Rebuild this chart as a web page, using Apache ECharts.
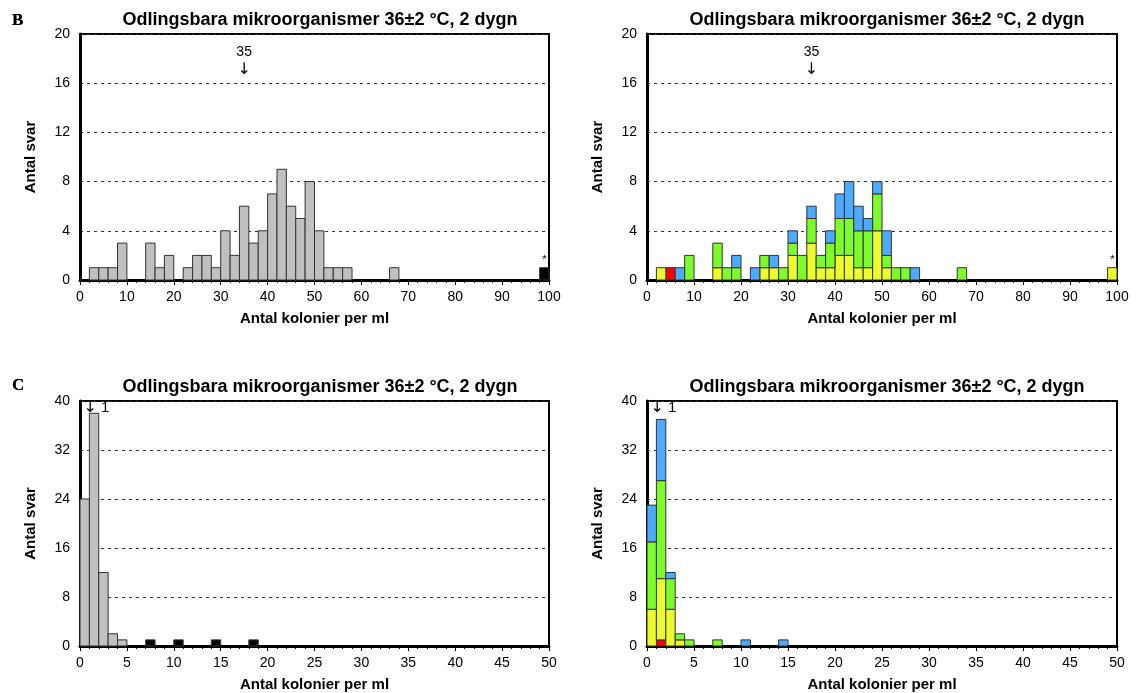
<!DOCTYPE html>
<html>
<head>
<meta charset="utf-8">
<script src="https://cdn.jsdelivr.net/npm/echarts@6/dist/echarts.min.js"></script>
<style>
  html, body { margin: 0; padding: 0; background: #fff; }
  #main { width: 1136px; height: 693px; }
</style>
</head>
<body>
<div id="main"></div>
<script>
// upper pair: bins of 2 colonies per ml, 0..100
var topGrey   = [0,1,1,1,3,0,0,3,1,2, 0,1,2,2,1,4,2,6,3,4, 7,9,6,5,8,4,1,1,1,0, 0,0,0,1,0,0,0,0,0,0, 0,0,0,0,0,0,0,0,0,0]
var topBlack  = [0,0,0,0,0,0,0,0,0,0, 0,0,0,0,0,0,0,0,0,0, 0,0,0,0,0,0,0,0,0,0, 0,0,0,0,0,0,0,0,0,0, 0,0,0,0,0,0,0,0,0,1]
var topRed    = [0,0,1,0,0,0,0,0,0,0, 0,0,0,0,0,0,0,0,0,0, 0,0,0,0,0,0,0,0,0,0, 0,0,0,0,0,0,0,0,0,0, 0,0,0,0,0,0,0,0,0,0]
var topYellow = [0,1,0,0,0,0,0,1,0,0, 0,0,1,1,0,2,0,3,1,1, 2,2,1,1,4,1,0,0,0,0, 0,0,0,0,0,0,0,0,0,0, 0,0,0,0,0,0,0,0,0,1]
var topGreen  = [0,0,0,0,2,0,0,2,1,1, 0,0,1,0,1,1,2,2,1,2, 3,3,3,3,3,1,1,1,0,0, 0,0,0,1,0,0,0,0,0,0, 0,0,0,0,0,0,0,0,0,0]
var topBlue   = [0,0,0,1,0,0,0,0,0,1, 0,1,0,1,0,1,0,1,0,1, 2,3,2,1,1,2,0,0,1,0, 0,0,0,0,0,0,0,0,0,0, 0,0,0,0,0,0,0,0,0,0]

// lower pair: bins of 1 colony per ml, 0..50
var lowGrey   = [24,38,12,2,1,0,0,0,0,0, 0,0,0,0,0,0,0,0,0,0, 0,0,0,0,0,0,0,0,0,0, 0,0,0,0,0,0,0,0,0,0, 0,0,0,0,0,0,0,0,0,0]
var lowBlack  = [0,0,0,0,0,0,0,1,0,0, 1,0,0,0,1,0,0,0,1,0, 0,0,0,0,0,0,0,0,0,0, 0,0,0,0,0,0,0,0,0,0, 0,0,0,0,0,0,0,0,0,0]
var lowRed    = [0,1,0,0,0,0,0,0,0,0, 0,0,0,0,0,0,0,0,0,0, 0,0,0,0,0,0,0,0,0,0, 0,0,0,0,0,0,0,0,0,0, 0,0,0,0,0,0,0,0,0,0]
var lowYellow = [6,10,6,1,0,0,0,0,0,0, 0,0,0,0,0,0,0,0,0,0, 0,0,0,0,0,0,0,0,0,0, 0,0,0,0,0,0,0,0,0,0, 0,0,0,0,0,0,0,0,0,0]
var lowGreen  = [11,16,5,1,1,0,0,1,0,0, 0,0,0,0,0,0,0,0,0,0, 0,0,0,0,0,0,0,0,0,0, 0,0,0,0,0,0,0,0,0,0, 0,0,0,0,0,0,0,0,0,0]
var lowBlue   = [6,10,1,0,0,0,0,0,0,0, 1,0,0,0,1,0,0,0,0,0, 0,0,0,0,0,0,0,0,0,0, 0,0,0,0,0,0,0,0,0,0, 0,0,0,0,0,0,0,0,0,0]

// markers: median arrow and the "*" over the outlier
var topArrow = [[35, 17.8]]
var lowArrow = [[1, 38.9]]
var topStar = [[99, 1]]

var titleText = 'Odlingsbara mikroorganismer 36±2 °C, 2 dygn'
var font = 'Liberation Sans, Arial, sans-serif'

// turn counts into [x0, x1, y0, y1] rectangles, stacked on base
function toRects(counts, width, base) {
  var out = []
  counts.forEach(function (c, i) {
    var b = base ? base[i] : 0
    if (c > 0) out.push([i * width, (i + 1) * width, b, b + c])
  })
  return out
}
function addUp(a, b) {
  return a.map(function (v, i) { return v + b[i] })
}

function renderRect(params, api) {
  var p0 = api.coord([api.value(0), api.value(2)])
  var p1 = api.coord([api.value(1), api.value(3)])
  return {
    type: 'rect',
    shape: { x: p0[0], y: p1[1], width: p1[0] - p0[0], height: p0[1] - p1[1] },
    style: api.style({ stroke: '#333', lineWidth: 1 })
  }
}

function barSeries(idx, data, color) {
  return {
    type: 'custom',
    xAxisIndex: idx,
    yAxisIndex: idx,
    renderItem: renderRect,
    itemStyle: { color: color },
    encode: { x: [0, 1], y: [2, 3] },
    data: data,
    silent: true
  }
}

function stackSeries(idx, width, red, yellow, green, blue) {
  var base = red.map(function () { return 0 })
  var list = []
  ;[[red, '#ff0000'], [yellow, '#ecfb2c'], [green, '#7dfb2b'], [blue, '#4caaff']].forEach(function (s) {
    list.push(barSeries(idx, toRects(s[0], width, base), s[1]))
    base = addUp(base, s[0])
  })
  return list
}

var arrowRich = { a: { fontFamily: 'DejaVu Sans', fontSize: 16, color: '#000' } }

function labelSeries(idx, data, text, opts) {
  return {
    type: 'scatter',
    xAxisIndex: idx,
    yAxisIndex: idx,
    symbolSize: 0,
    silent: true,
    z: 5,
    data: data,
    itemStyle: { opacity: 1 },
    label: Object.assign({
      show: true,
      position: 'inside',
      formatter: text,
      color: '#000',
      fontFamily: font,
      fontSize: 14,
      rich: arrowRich
    }, opts || {})
  }
}

var grids = [
  { left: 80, top: 34, width: 469, height: 246 },
  { left: 647, top: 34, width: 470, height: 246 },
  { left: 80, top: 401, width: 469, height: 245 },
  { left: 647, top: 401, width: 470, height: 245 }
]
grids.forEach(function (g) {
  g.show = true
  g.borderColor = '#000'
  g.borderWidth = 2
  g.backgroundColor = '#fff'
})

function xAxisFor(idx, max, interval) {
  return {
    type: 'value',
    gridIndex: idx,
    min: 0,
    max: max,
    interval: interval,
    name: 'Antal kolonier per ml',
    nameLocation: 'middle',
    nameGap: 31,
    nameTextStyle: { fontFamily: font, fontSize: 15, fontWeight: 'bold', color: '#000' },
    axisLine: { show: true, onZero: false, lineStyle: { color: '#000', width: 3 } },
    axisTick: { show: true, length: 5, lineStyle: { color: '#000', width: 1 } },
    minorTick: { show: true, splitNumber: 5, length: 3, lineStyle: { color: '#000', width: 1 } },
    axisLabel: { fontFamily: font, fontSize: 14, color: '#000', margin: 10 },
    splitLine: { show: false }
  }
}

function yAxisFor(idx, max, interval) {
  return {
    type: 'value',
    gridIndex: idx,
    min: 0,
    max: max,
    interval: interval,
    name: 'Antal svar',
    nameLocation: 'middle',
    nameGap: 42,
    nameTextStyle: { fontFamily: font, fontSize: 15, fontWeight: 'bold', color: '#000' },
    axisLine: { show: true, onZero: false, lineStyle: { color: '#000', width: 3 } },
    axisTick: { show: false },
    axisLabel: { fontFamily: font, fontSize: 14, color: '#000', margin: 10 },
    splitLine: { show: true, lineStyle: { color: '#333', width: 1, type: [3, 4] } }
  }
}

function chartTitle(left, top) {
  return {
    text: titleText,
    left: left,
    top: top,
    textAlign: 'center',
    textStyle: { fontFamily: font, fontSize: 18, fontWeight: 'bold', color: '#000' }
  }
}
function letter(t, top) {
  return {
    text: t,
    left: 7,
    top: top,
    textStyle: { fontFamily: 'Liberation Serif, Times New Roman, serif', fontSize: 17, fontWeight: 'bold', color: '#000' }
  }
}

var series = [
  barSeries(0, toRects(topGrey, 2), '#c0c0c0'),
  barSeries(0, toRects(topBlack, 2), '#000'),
  labelSeries(0, topArrow, '35\n{a|↓}', { lineHeight: 18 }),
  labelSeries(0, topStar, '*', { position: 'top', distance: 2, fontSize: 11 }),
  labelSeries(1, topArrow, '35\n{a|↓}', { lineHeight: 18 }),
  labelSeries(1, topStar, '*', { position: 'top', distance: 2, fontSize: 11 }),
  barSeries(2, toRects(lowGrey, 1), '#c0c0c0'),
  barSeries(2, toRects(lowBlack, 1), '#000'),
  labelSeries(2, lowArrow, '{a|↓} 1', { align: 'left', offset: [-6, 0], fontSize: 15 }),
  labelSeries(3, lowArrow, '{a|↓} 1', { align: 'left', offset: [-6, 0], fontSize: 15 })
]
series = series
  .concat(stackSeries(1, 2, topRed, topYellow, topGreen, topBlue))
  .concat(stackSeries(3, 1, lowRed, lowYellow, lowGreen, lowBlue))

var chart = echarts.init(document.getElementById('main'), null, { renderer: 'canvas' })
chart.setOption({
  animation: false,
  backgroundColor: '#fff',
  title: [
    chartTitle(315, 6), chartTitle(882, 6),
    chartTitle(315, 373), chartTitle(882, 373),
    letter('B', 7), letter('B', 7),
    letter('C', 372), letter('C', 372)
  ],
  grid: grids,
  xAxis: [xAxisFor(0, 100, 10), xAxisFor(1, 100, 10), xAxisFor(2, 50, 5), xAxisFor(3, 50, 5)],
  yAxis: [yAxisFor(0, 20, 4), yAxisFor(1, 20, 4), yAxisFor(2, 40, 8), yAxisFor(3, 40, 8)],
  series: series
})
</script>
</body>
</html>
